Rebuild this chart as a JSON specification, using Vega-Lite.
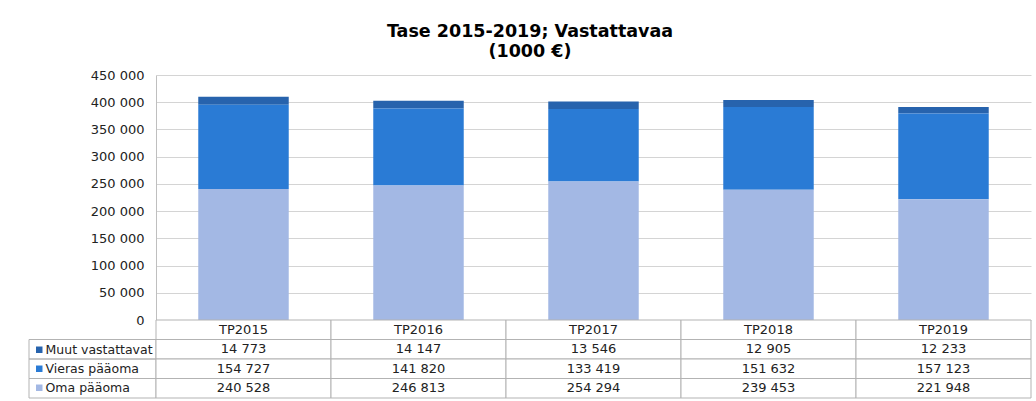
{
  "$schema": "https://vega.github.io/schema/vega-lite/v6.json",
  "padding": {"left": 28, "top": 22, "right": 4, "bottom": 2},
  "background": "white",
  "config": {
    "view": {"stroke": null},
    "locale": {"number": {"decimal": ",", "thousands": " ", "grouping": [3], "currency": ["", " €"]}},
    "font": "DejaVu Sans"
  },
  "title": {
    "text": ["Tase 2015-2019; Vastattavaa", "(1000 €)"],
    "font": "DejaVu Sans",
    "fontSize": 17.5,
    "fontWeight": "bold",
    "color": "#000000",
    "anchor": "middle",
    "lineHeight": 20,
    "offset": 9
  },
  "datasets": {
    "tase": [
      {"vuosi": "TP2015", "erä": "Muut vastattavat", "arvo": 14773},
      {"vuosi": "TP2016", "erä": "Muut vastattavat", "arvo": 14147},
      {"vuosi": "TP2017", "erä": "Muut vastattavat", "arvo": 13546},
      {"vuosi": "TP2018", "erä": "Muut vastattavat", "arvo": 12905},
      {"vuosi": "TP2019", "erä": "Muut vastattavat", "arvo": 12233},
      {"vuosi": "TP2015", "erä": "Vieras pääoma", "arvo": 154727},
      {"vuosi": "TP2016", "erä": "Vieras pääoma", "arvo": 141820},
      {"vuosi": "TP2017", "erä": "Vieras pääoma", "arvo": 133419},
      {"vuosi": "TP2018", "erä": "Vieras pääoma", "arvo": 151632},
      {"vuosi": "TP2019", "erä": "Vieras pääoma", "arvo": 157123},
      {"vuosi": "TP2015", "erä": "Oma pääoma", "arvo": 240528},
      {"vuosi": "TP2016", "erä": "Oma pääoma", "arvo": 246813},
      {"vuosi": "TP2017", "erä": "Oma pääoma", "arvo": 254294},
      {"vuosi": "TP2018", "erä": "Oma pääoma", "arvo": 239453},
      {"vuosi": "TP2019", "erä": "Oma pääoma", "arvo": 221948}
    ]
  },
  "columns": 2,
  "align": "each",
  "bounds": "flush",
  "spacing": 0,
  "resolve": {"scale": {"x": "independent", "y": "independent", "color": "independent"}},
  "concat": [
    {
      "width": 127,
      "height": 245,
      "data": {"values": []},
      "mark": {"type": "text"},
      "encoding": {}
    },
    {
      "width": 875,
      "height": 245,
      "data": {"name": "tase"},
      "transform": [
        {"calculate": "indexof(['Oma pääoma', 'Vieras pääoma', 'Muut vastattavat'], datum['erä'])", "as": "pino"}
      ],
      "mark": {"type": "bar", "width": {"band": 0.517}},
      "encoding": {
        "x": {
          "field": "vuosi",
          "type": "nominal",
          "scale": {"paddingInner": 0, "paddingOuter": 0},
          "axis": null
        },
        "y": {
          "field": "arvo",
          "type": "quantitative",
          "stack": "zero",
          "scale": {"domain": [0, 450000], "nice": false},
          "axis": {
            "title": null,
            "values": [0, 50000, 100000, 150000, 200000, 250000, 300000, 350000, 400000, 450000],
            "format": ",d",
            "ticks": false,
            "labelPadding": 12,
            "labelFontSize": 13,
            "labelFont": "DejaVu Sans",
            "labelColor": "#222222",
            "domainColor": "#bfbfbf",
            "gridColor": "#d4d4d4",
            "grid": true
          }
        },
        "color": {
          "field": "erä",
          "type": "nominal",
          "scale": {
            "domain": ["Oma pääoma", "Vieras pääoma", "Muut vastattavat"],
            "range": ["#a3b8e4", "#2a7bd5", "#2763ad"]
          },
          "legend": {
            "orient": "none",
            "legendX": -123,
            "legendY": 268.5,
            "title": null,
            "values": ["Muut vastattavat", "Vieras pääoma", "Oma pääoma"],
            "symbolType": "square",
            "symbolSize": 42,
            "symbolStrokeWidth": 0,
            "labelFontSize": 12.5,
            "labelFont": "DejaVu Sans",
            "labelColor": "#222222",
            "labelOffset": 0,
            "rowPadding": 6,
            "padding": 0
          }
        },
        "order": {"field": "pino", "type": "quantitative", "sort": "ascending"}
      }
    },
    {
      "width": 127,
      "height": 78,
      "data": {"name": "tase"},
      "transform": [{"filter": "datum.vuosi == 'TP2015'"}],
      "mark": {"type": "rect", "fill": "transparent", "stroke": "#b3b3b3", "strokeWidth": 1},
      "encoding": {
        "y": {
          "field": "erä",
          "type": "nominal",
          "scale": {"domain": ["h", "Muut vastattavat", "Vieras pääoma", "Oma pääoma"], "paddingInner": 0, "paddingOuter": 0},
          "axis": null
        }
      }
    },
    {
      "width": 875,
      "height": 78,
      "data": {"name": "tase"},
      "encoding": {
        "x": {
          "field": "vuosi",
          "type": "nominal",
          "scale": {"paddingInner": 0, "paddingOuter": 0},
          "axis": null
        }
      },
      "layer": [
        {
          "mark": {"type": "rect", "fill": "white", "stroke": "#b3b3b3", "strokeWidth": 1},
          "encoding": {
            "y": {
              "field": "erä",
              "type": "nominal",
              "scale": {"domain": ["h", "Muut vastattavat", "Vieras pääoma", "Oma pääoma"], "paddingInner": 0, "paddingOuter": 0},
              "axis": null
            }
          }
        },
        {
          "transform": [{"filter": "datum.erä == 'Oma pääoma'"}],
          "mark": {"type": "rect", "fill": "white", "stroke": "#b3b3b3", "strokeWidth": 1},
          "encoding": {"y": {"datum": "h", "type": "nominal"}}
        },
        {
          "mark": {"type": "text", "fontSize": 13, "font": "DejaVu Sans", "color": "#222222"},
          "encoding": {
            "y": {"field": "erä", "type": "nominal"},
            "text": {"field": "arvo", "type": "quantitative", "format": ",d"}
          }
        },
        {
          "transform": [{"filter": "datum.erä == 'Oma pääoma'"}],
          "mark": {"type": "text", "fontSize": 13, "font": "DejaVu Sans", "color": "#222222"},
          "encoding": {
            "y": {"datum": "h", "type": "nominal"},
            "text": {"field": "vuosi", "type": "nominal"}
          }
        }
      ]
    }
  ]
}
